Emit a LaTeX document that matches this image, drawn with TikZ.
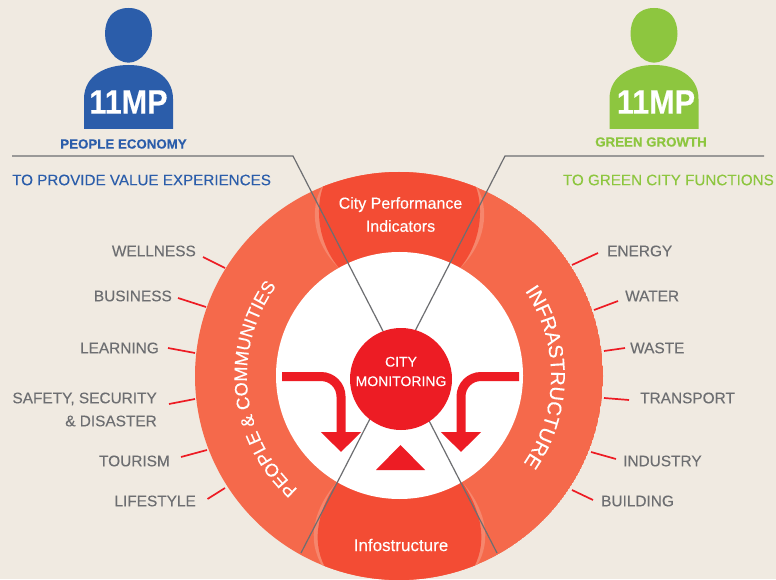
\documentclass[tikz,border=0pt]{standalone}
\usepackage{fontspec}
\setmainfont[FakeBold=0.2,BoldFeatures={FakeBold=0.3}]{Liberation Sans}
\usepackage{xcolor}
\usetikzlibrary{arrows.meta, decorations.text}
\definecolor{paper}{HTML}{F0EAE1}
\definecolor{ringred}{HTML}{F5694B}
\definecolor{capred}{HTML}{F34C34}
\definecolor{halored}{HTML}{F6866C}
\definecolor{hotred}{HTML}{ED1C24}
\definecolor{leadgrey}{HTML}{6D6E71}
\definecolor{peopleblue}{HTML}{2B5DAA}
\definecolor{growgreen}{HTML}{8DC63F}

\tikzset{
  person/.pic={
    \fill (-44.5,0) -- (-44.5,30) .. controls (-44.5,54) and (-22,64) .. (0,64)
      .. controls (22,64) and (44.5,54) .. (44.5,30) -- (44.5,0) -- cycle;
    \fill (0,121) .. controls (16,121) and (23.5,110) .. (23.5,95)
      .. controls (23.5,80) and (12,66.3) .. (0,66.3)
      .. controls (-12,66.3) and (-23.5,80) .. (-23.5,95)
      .. controls (-23.5,110) and (-16,121) .. (0,121);
  },
  item/.style={inner sep=0pt,text=leadgrey,font=\fontsize{15.4}{23}\selectfont},
  itemtick/.style={draw=hotred,line width=1.7pt},
  leader/.style={draw=leadgrey,line width=1.2pt},
  flowarrow/.style={draw=hotred,line width=9pt,rounded corners=20pt,
    -{Triangle[width=39pt,length=20pt]}},
  badge/.style={inner sep=0pt,text=white,font=\fontsize{34}{34}\bfseries\selectfont},
  heading/.style={inner sep=0pt,font=\fontsize{13.3}{14}\bfseries\selectfont},
  subheading/.style={inner sep=0pt,font=\fontsize{15.2}{16}\selectfont},
  captext/.style={inner sep=0pt,text=white,align=center,font=\fontsize{16}{23}\selectfont},
}

\begin{document}
\begin{tikzpicture}[x=1pt,y=1pt]
  \useasboundingbox (0,0) rectangle (776,579);
  \fill[paper] (0,0) rectangle (776,579);

  \coordinate (hub) at (399,203);

  % ring with the two caps
  \begin{scope}
    \clip (hub) circle (204);
    \fill[ringred] (hub) circle (204);
    \fill[halored] (322,392) .. controls (309,370) and (313,335) .. (340,310) -- (459,310)
      .. controls (486,335) and (490,370) .. (477,392) -- (477,420) -- (322,420) -- cycle;
    \fill[capred] (323,392) .. controls (315,370) and (318,335) .. (340,310) -- (459,310)
      .. controls (481,335) and (484,370) .. (476,392) -- (476,420) -- (323,420) -- cycle;
    \fill[halored] (337,97) .. controls (315,72) and (305,40) .. (323,12) -- (323,-5) -- (476,-5)
      -- (476,12) .. controls (494,40) and (484,72) .. (462,97) -- cycle;
    \fill[capred] (337,97) .. controls (320,72) and (310,40) .. (325,12) -- (325,-5) -- (474,-5)
      -- (474,12) .. controls (489,40) and (479,72) .. (462,97) -- cycle;
  \end{scope}
  \fill[white] (399.5,203.5) circle (123.5);

  % lines through the hub
  \coordinate (la) at (12,423);
  \coordinate (lb) at (293,423);
  \coordinate (lc) at (497,26);
  \coordinate (ra) at (764,423);
  \coordinate (rb) at (505,423);
  \coordinate (rc) at (301,26);
  \draw[leader] (la) -- (lb) -- (lc);
  \draw[leader] (ra) -- (rb) -- (rc);

  \node[circle,fill=hotred,inner sep=0pt,minimum size=102pt] (monitoring) at (401,200) {};
  \node[inner sep=0pt,text=white,align=center,font=\fontsize{14}{19.5}\selectfont]
    (monitoringtext) at (401,207.5) {CITY\\MONITORING};

  % arrows
  \coordinate (fla) at (282,202.5);
  \coordinate (flb) at (341,127);
  \coordinate (fra) at (519,202.5);
  \coordinate (frb) at (461,127);
  \draw[flowarrow] (fla) -| (flb);
  \draw[flowarrow] (fra) -| (frb);
  \fill[hotred] (376,109) -- (425,109) -- (400.5,134) -- cycle;

  % caps and ring text
  \node[captext] (performance) at (400.5,364.5) {City Performance\\Indicators};
  \node[captext,font=\fontsize{17}{20}\selectfont] (infostructure) at (401,34) {Infostructure};
  \path[decorate,decoration={text along path,text align=center,
      text={|\fontsize{18.2}{18}\selectfont\color{white}|PEOPLE {\&} COMMUNITIES}}]
    ([shift={(236:152)}]hub) arc[start angle=236,end angle=136,radius=152];
  \path[decorate,decoration={text along path,text align=center,
      text={|\fontsize{20}{20}\selectfont\color{white}|INFRASTRUCTURE}}]
    ([shift={(50:152)}]hub) arc[start angle=50,end angle=-51,radius=152];

  % people
  \pic[fill=peopleblue] (blueperson) at (128.5,450) {person};
  \pic[fill=growgreen] (greenperson) at (654,450) {person};
  \node[badge] (bluebadge) at (128.5,477) {\scalebox{.9}[1]{11MP}};
  \node[badge] (greenbadge) at (656,477) {\scalebox{.9}[1]{11MP}};
  \node[heading,text=peopleblue] (economy) at (123.5,435) {PEOPLE ECONOMY};
  \node[heading,text=growgreen] (growth) at (651,437) {GREEN GROWTH};
  \node[subheading,text=peopleblue,anchor=west] (experiences) at (12,399) {TO PROVIDE VALUE EXPERIENCES};
  \node[subheading,text=growgreen,anchor=east] (functions) at (774,399) {TO GREEN CITY FUNCTIONS};

  % left items
  \node[item,anchor=east] (wellness) at (196,328) {WELLNESS};
  \node[item,anchor=east] (business) at (172,283) {BUSINESS};
  \node[item,anchor=east] (learning) at (159,231) {LEARNING};
  \node[item,anchor=east,align=right] (safety) at (157,169.5) {SAFETY, SECURITY\\\& DISASTER};
  \node[item,anchor=east] (tourism) at (170,118) {TOURISM};
  \node[item,anchor=east] (lifestyle) at (196,78) {LIFESTYLE};

  % right items
  \node[item,anchor=west] (energy) at (607,328) {ENERGY};
  \node[item,anchor=west] (water) at (625,283) {WATER};
  \node[item,anchor=west] (waste) at (630,231) {WASTE};
  \node[item,anchor=west] (transport) at (640,181) {TRANSPORT};
  \node[item,anchor=west] (industry) at (623,118) {INDUSTRY};
  \node[item,anchor=west] (building) at (601,78) {BUILDING};

  \coordinate (wellness_a) at (203,322);  \coordinate (wellness_b) at (225,311);
  \coordinate (business_a) at (178,281);  \coordinate (business_b) at (206,272);
  \coordinate (learning_a) at (168,231);  \coordinate (learning_b) at (195,226);
  \coordinate (safety_a) at (169,175);    \coordinate (safety_b) at (195,180);
  \coordinate (tourism_a) at (181,122);   \coordinate (tourism_b) at (207,129);
  \coordinate (lifestyle_a) at (207.5,80); \coordinate (lifestyle_b) at (225,91);
  \coordinate (energy_a) at (598,326);    \coordinate (energy_b) at (572,314);
  \coordinate (water_a) at (618,278);     \coordinate (water_b) at (594,269);
  \coordinate (waste_a) at (625,231);     \coordinate (waste_b) at (604,228);
  \coordinate (transport_a) at (629,179); \coordinate (transport_b) at (604,181);
  \coordinate (industry_a) at (616,120);  \coordinate (industry_b) at (591,127);
  \coordinate (building_a) at (593,79);   \coordinate (building_b) at (572,89);

  \draw[itemtick] (wellness_a) -- (wellness_b);
  \draw[itemtick] (business_a) -- (business_b);
  \draw[itemtick] (learning_a) -- (learning_b);
  \draw[itemtick] (safety_a) -- (safety_b);
  \draw[itemtick] (tourism_a) -- (tourism_b);
  \draw[itemtick] (lifestyle_a) -- (lifestyle_b);
  \draw[itemtick] (energy_a) -- (energy_b);
  \draw[itemtick] (water_a) -- (water_b);
  \draw[itemtick] (waste_a) -- (waste_b);
  \draw[itemtick] (transport_a) -- (transport_b);
  \draw[itemtick] (industry_a) -- (industry_b);
  \draw[itemtick] (building_a) -- (building_b);
\end{tikzpicture}
\end{document}
